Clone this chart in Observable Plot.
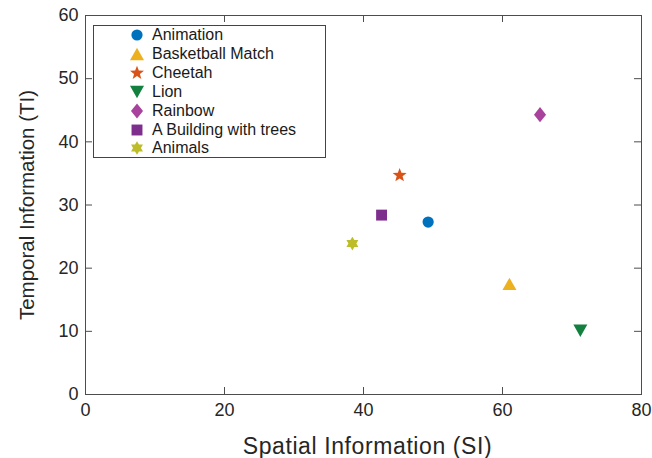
<!DOCTYPE html>
<html>
<head>
<meta charset="utf-8">
<script src="https://cdn.jsdelivr.net/npm/d3@7"></script>
<script src="https://cdn.jsdelivr.net/npm/@observablehq/plot@0.6"></script>
<style>
  html, body { margin: 0; padding: 0; background: #fff; }
  #chart { position: relative; width: 652px; height: 458px; font-family: "Liberation Sans", Arial, sans-serif; }
  #legend { position: absolute; left: 93px; top: 25px; width: 233px; height: 133px; border: 1px solid #444; background: #fff; box-sizing: border-box; }
  #legend .row { position: absolute; left: 0; height: 19px; display: flex; align-items: center; font-size: 16px; color: #1a1a1a; white-space: nowrap; }
  #legend svg { margin-left: 35px; margin-right: 0px; }
</style>
</head>
<body>
<div id="chart"></div>
<script>
// ---- data ----
const names = ["Animation", "Basketball Match", "Cheetah", "Lion", "Rainbow", "A Building with trees", "Animals"];
const si = [49.3, 61.0, 45.2, 71.2, 65.4, 42.6, 38.4];
const ti = [27.3, 17.5, 34.7, 10.1, 44.3, 28.4, 23.9];
const colors = ["#0072BD", "#EDB120", "#D95319", "#138040", "#A8429C", "#7E2F8E", "#BDBD2A"];
const shapeNames = ["circle", "triangleUp", "star", "triangleDown", "diamond", "square", "hexagram"];
const xTicks = [0, 20, 40, 60, 80];
const yTicks = [0, 10, 20, 30, 40, 50, 60];

// ---- custom symbol shapes (size = r*r*PI, r recovered) ----
const rad = (size) => Math.sqrt(size / Math.PI);
const shapes = {
  circle: { draw(c, s) { const r = rad(s) * 0.8; c.moveTo(r, 0); c.arc(0, 0, r, 0, 2 * Math.PI); } },
  triangleUp: { draw(c, s) { const r = rad(s); c.moveTo(0, -0.88 * r); c.lineTo(r, 0.88 * r); c.lineTo(-r, 0.88 * r); c.closePath(); } },
  triangleDown: { draw(c, s) { const r = rad(s); c.moveTo(0, 0.9 * r); c.lineTo(r, -0.9 * r); c.lineTo(-r, -0.9 * r); c.closePath(); } },
  diamond: { draw(c, s) { const r = rad(s); c.moveTo(0, -1.08 * r); c.lineTo(0.86 * r, 0); c.lineTo(0, 1.08 * r); c.lineTo(-0.86 * r, 0); c.closePath(); } },
  square: { draw(c, s) { const r = rad(s) * 0.78; c.rect(-r, -r, 2 * r, 2 * r); } },
  star: { draw(c, s) { const R = rad(s) * 1.05, ri = R * 0.42; for (let i = 0; i < 10; i++) { const a = -Math.PI / 2 + i * Math.PI / 5, rr = i % 2 ? ri : R; const x = rr * Math.cos(a), y = rr * Math.sin(a); i ? c.lineTo(x, y) : c.moveTo(x, y); } c.closePath(); } },
  hexagram: { draw(c, s) { const R = rad(s) * 0.98, ri = R * 0.58; for (let i = 0; i < 12; i++) { const a = -Math.PI / 2 + i * Math.PI / 6, rr = i % 2 ? ri : R; const x = rr * Math.cos(a), y = rr * Math.sin(a); i ? c.lineTo(x, y) : c.moveTo(x, y); } c.closePath(); } }
};

const rows = names.map((n, i) => ({ name: n, si: si[i], ti: ti[i], color: colors[i], shape: shapes[shapeNames[i]] }));

const W = 652, H = 458;
const mL = 85, mR = 11, mT = 15, mB = 64;
const tickPx = 7;
const xTickLen = tickPx / (H - mT - mB) * 60;
const yTickLen = tickPx / (W - mL - mR) * 80;
const axisColor = "#4d4d4d";

const plot = Plot.plot({
  width: W, height: H,
  marginLeft: mL, marginRight: mR, marginTop: mT, marginBottom: mB,
  style: { fontFamily: "Liberation Sans, Arial, sans-serif", color: "#262626", background: "#fff" },
  x: { domain: [0, 80] },
  y: { domain: [0, 60] },
  marks: [
    Plot.axisX(xTicks, { tickSize: 0, tickPadding: 9, fontSize: 18, label: "Spatial Information (SI)", labelArrow: "none", labelAnchor: "center", labelOffset: 59, fill: "#262626" }),
    Plot.axisY(yTicks, { tickSize: 0, tickPadding: 7, fontSize: 18, label: "Temporal Information (TI)", labelArrow: "none", labelAnchor: "center", labelOffset: 66, fill: "#262626" }),
    // inward tick marks on all four sides
    Plot.ruleX(xTicks, { x: d => d, y1: 0, y2: xTickLen, stroke: axisColor }),
    Plot.ruleX(xTicks, { x: d => d, y1: 60 - xTickLen, y2: 60, stroke: axisColor }),
    Plot.ruleY(yTicks, { y: d => d, x1: 0, x2: yTickLen, stroke: axisColor }),
    Plot.ruleY(yTicks, { y: d => d, x1: 80 - yTickLen, x2: 80, stroke: axisColor }),
    Plot.frame({ stroke: axisColor, strokeWidth: 1 }),
    ...rows.map(d => Plot.dot([d], { x: "si", y: "ti", r: 7, symbol: d.shape, fill: d.color, stroke: "none" }))
  ]
});

// style axis labels
const xl = plot.querySelector("g[aria-label='x-axis label'] text");
if (xl) { xl.setAttribute("font-size", "23"); xl.setAttribute("letter-spacing", "0.6"); xl.setAttribute("transform", (xl.getAttribute("transform") || "") + " translate(4,0)"); }
const yl = plot.querySelector("g[aria-label='y-axis label'] text");
if (yl) { yl.setAttribute("font-size", "20.5"); }

const chart = document.getElementById("chart");
chart.appendChild(plot);

// legend
const legend = document.createElement("div");
legend.id = "legend";
rows.forEach((d, i) => {
  const row = document.createElement("div");
  row.className = "row";
  row.style.top = (-0.5 + i * 18.9) + "px";
  const svg = d3.create("svg").attr("width", 16).attr("height", 16);
  svg.append("path")
    .attr("transform", "translate(8,8)")
    .attr("fill", d.color)
    .attr("d", d3.symbol(d.shape, 7 * 7 * Math.PI)());
  row.appendChild(svg.node());
  const span = document.createElement("span");
  span.style.marginLeft = "7px";
  span.textContent = d.name;
  row.appendChild(span);
  legend.appendChild(row);
});
chart.appendChild(legend);
</script>
</body>
</html>
